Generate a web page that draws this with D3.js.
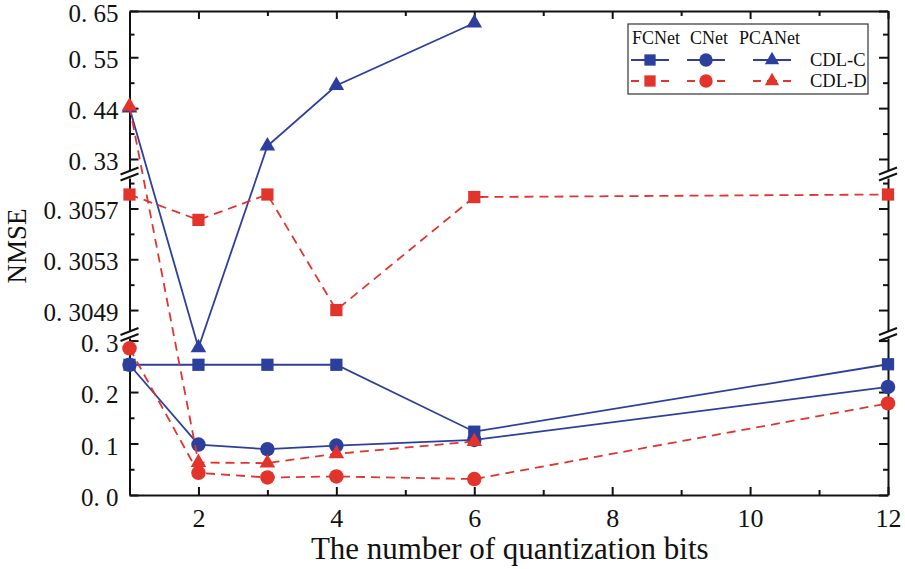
<!DOCTYPE html>
<html>
<head>
<meta charset="utf-8">
<script src="https://cdn.jsdelivr.net/npm/d3@7"></script>
<style>
  body { margin: 0; background: #fff; }
  svg text { font-family: "Liberation Serif", "Times New Roman", serif; fill: #111; }
</style>
</head>
<body>
<svg id="chart" width="905" height="569"></svg>
<script>
// data
let bits = [1, 2, 3, 4, 6, 12]
let pcaBits = [1, 2, 3, 4, 6]

let cdlcFCNet  = [0.253, 0.253, 0.253, 0.253, 0.123, 0.254]
let cdlcCNet   = [0.253, 0.098, 0.089, 0.096, 0.107, 0.210]
let cdlcPCANet = [0.440, 0.286, 0.358, 0.489, 0.624]

let cdldFCNet  = [0.30581, 0.30561, 0.30581, 0.30490, 0.30579, 0.30581]
let cdldCNet   = [0.285, 0.043, 0.034, 0.036, 0.031, 0.178]
let cdldPCANet = [0.444, 0.063, 0.062, 0.080, 0.104]

let xTicks = [2, 4, 6, 8, 10, 12]
let xMinor = [3, 5, 7, 9, 11]
let topTicks = [0.33, 0.44, 0.55, 0.65]
let topMinor = [0.385, 0.495, 0.60]
let midTicks = [0.3049, 0.3053, 0.3057]
let midMinor = [0.3051, 0.3055, 0.3059]
let lowTicks = [0.0, 0.1, 0.2, 0.3]
let lowMinor = [0.05, 0.15, 0.25]

let netNames = ['FCNet', 'CNet', 'PCANet']
let groupNames = ['CDL-C', 'CDL-D']

let blue = '#2c3f9c'
let red = '#e3342c'

let plotLeft = 129.5
let plotRight = 888
let plotTop = 11
let plotBottom = 495

let svg = d3.select('#chart')

let xScale = d3.scaleLinear().domain([1, 12]).range([plotLeft, plotRight])

// three stacked pieces of the broken y axis
let segments = [
    { scale: d3.scaleLinear().domain([0.3062, 0.65]).range([170, plotTop]), ticks: topTicks, minor: topMinor, digits: 2 },
    { scale: d3.scaleLinear().domain([0.304735, 0.30594]).range([331, 178]), ticks: midTicks, minor: midMinor, digits: 4 },
    { scale: d3.scaleLinear().domain([0, 0.305]).range([plotBottom, 338]), ticks: lowTicks, minor: lowMinor, digits: 1 }
]
let breaks = [174, 334.5]

let yPos = (v) => {
    if (v >= 0.3062) return segments[0].scale(v)
    if (v >= 0.3047) return segments[1].scale(v)
    return segments[2].scale(v)
}

// axes
let styleAxis = (g) => {
    g.selectAll('path').attr('stroke', '#111').attr('stroke-width', 2)
    g.selectAll('line').attr('stroke', '#111').attr('stroke-width', 2)
    g.selectAll('text').style('font-size', '25px').attr('fill', '#111')
}

segments.forEach(seg => {
    svg.append('g')
        .attr('transform', `translate(${plotLeft}, 0)`)
        .call(d3.axisLeft(seg.scale).tickValues(seg.ticks).tickSizeInner(-9).tickSizeOuter(0).tickPadding(11)
            .tickFormat(d => d.toFixed(seg.digits).replace('.', '. ')))
        .call(styleAxis)
        .selectAll('text').attr('dy', '0.42em')
    svg.append('g')
        .attr('transform', `translate(${plotLeft}, 0)`)
        .call(d3.axisLeft(seg.scale).tickValues(seg.minor).tickSize(-5).tickFormat(''))
        .call(styleAxis)
        .select('.domain').remove()
    svg.append('g')
        .attr('transform', `translate(${plotRight}, 0)`)
        .call(d3.axisRight(seg.scale).tickValues(seg.ticks).tickSizeInner(-9).tickSizeOuter(0).tickFormat(''))
        .call(styleAxis)
    svg.append('g')
        .attr('transform', `translate(${plotRight}, 0)`)
        .call(d3.axisRight(seg.scale).tickValues(seg.minor).tickSize(-5).tickFormat(''))
        .call(styleAxis)
        .select('.domain').remove()
})

svg.append('g')
    .attr('transform', `translate(0, ${plotBottom})`)
    .call(d3.axisBottom(xScale).tickValues(xTicks).tickSizeInner(-8).tickSizeOuter(0).tickPadding(14))
    .call(styleAxis)
    .selectAll('text').style('font-size', '26px')
svg.append('g')
    .attr('transform', `translate(0, ${plotBottom})`)
    .call(d3.axisBottom(xScale).tickValues(xMinor).tickSize(-5).tickFormat(''))
    .call(styleAxis)
    .select('.domain').remove()
svg.append('g')
    .attr('transform', `translate(0, ${plotTop})`)
    .call(d3.axisTop(xScale).tickValues(xTicks).tickSizeInner(-8).tickSizeOuter(0).tickFormat(''))
    .call(styleAxis)
svg.append('g')
    .attr('transform', `translate(0, ${plotTop})`)
    .call(d3.axisTop(xScale).tickValues(xMinor).tickSize(-5).tickFormat(''))
    .call(styleAxis)
    .select('.domain').remove()

// break marks on both sides
let breakG = svg.append('g')
breaks.forEach(yc => {
    [plotLeft, plotRight].forEach(ax => {
        [-3, 3].forEach(off => {
            breakG.append('line')
                .attr('x1', ax - 9).attr('y1', yc + off + 3.5)
                .attr('x2', ax + 9).attr('y2', yc + off - 3.5)
                .attr('stroke', '#111').attr('stroke-width', 2)
        })
    })
})

// series
let series = [
    { xs: bits, ys: cdlcFCNet, color: blue, dash: null, symbol: d3.symbolSquare, size: 150 },
    { xs: bits, ys: cdlcCNet, color: blue, dash: null, symbol: d3.symbolCircle, size: 165 },
    { xs: pcaBits, ys: cdlcPCANet, color: blue, dash: null, symbol: d3.symbolTriangle, size: 105 },
    { xs: bits, ys: cdldFCNet, color: red, dash: '9,6', symbol: d3.symbolSquare, size: 150 },
    { xs: bits, ys: cdldCNet, color: red, dash: '9,6', symbol: d3.symbolCircle, size: 165 },
    { xs: pcaBits, ys: cdldPCANet, color: red, dash: '9,6', symbol: d3.symbolTriangle, size: 105 }
]

let line = d3.line()
    .x(d => xScale(d[0]))
    .y(d => yPos(d[1]))

series.forEach(s => {
    let pts = s.xs.map((x, i) => [x, s.ys[i]])
    svg.append('path')
        .datum(pts)
        .attr('d', line)
        .attr('fill', 'none')
        .attr('stroke', s.color)
        .attr('stroke-width', 1.8)
        .attr('stroke-dasharray', s.dash)
    svg.selectAll(null)
        .data(pts)
        .enter()
        .append('path')
        .attr('d', d3.symbol().type(s.symbol).size(s.size))
        .attr('transform', d => `translate(${xScale(d[0])}, ${yPos(d[1])})`)
        .attr('fill', s.color)
})

// legend
let legend = svg.append('g')
legend.append('rect')
    .attr('x', 628).attr('y', 24).attr('width', 240).attr('height', 70)
    .attr('fill', '#fff').attr('stroke', '#333').attr('stroke-width', 1.2)

let colX = [650, 706, 772]
let headX = [632, 690, 739]
netNames.forEach((n, i) => {
    legend.append('text')
        .attr('x', headX[i]).attr('y', 44)
        .style('font-size', '18px')
        .text(n)
})
groupNames.forEach((g, r) => {
    let yy = 60 + r * 21
    let s = series[r * 3]
    colX.forEach((cx, i) => {
        legend.append('line')
            .attr('x1', cx - 19).attr('x2', cx + 19)
            .attr('y1', yy).attr('y2', yy)
            .attr('stroke', s.color).attr('stroke-width', 1.8)
            .attr('stroke-dasharray', r === 1 ? '8,6,10,6,8' : null)
        legend.append('path')
            .attr('d', d3.symbol().type(series[r * 3 + i].symbol).size(series[r * 3 + i].size * 0.85))
            .attr('transform', `translate(${cx}, ${yy})`)
            .attr('fill', s.color)
    })
    legend.append('text')
        .attr('x', 810).attr('y', yy + 6)
        .style('font-size', '18.5px')
        .text(g)
})

// axis titles
svg.append('text')
    .attr('x', (plotLeft + plotRight) / 2 + 1).attr('y', 559)
    .attr('text-anchor', 'middle')
    .style('font-size', '31px')
    .text('The number of quantization bits')

svg.append('text')
    .attr('transform', 'translate(26, 246) rotate(-90)')
    .attr('text-anchor', 'middle')
    .style('font-size', '27px')
    .text('NMSE')
</script>
</body>
</html>
